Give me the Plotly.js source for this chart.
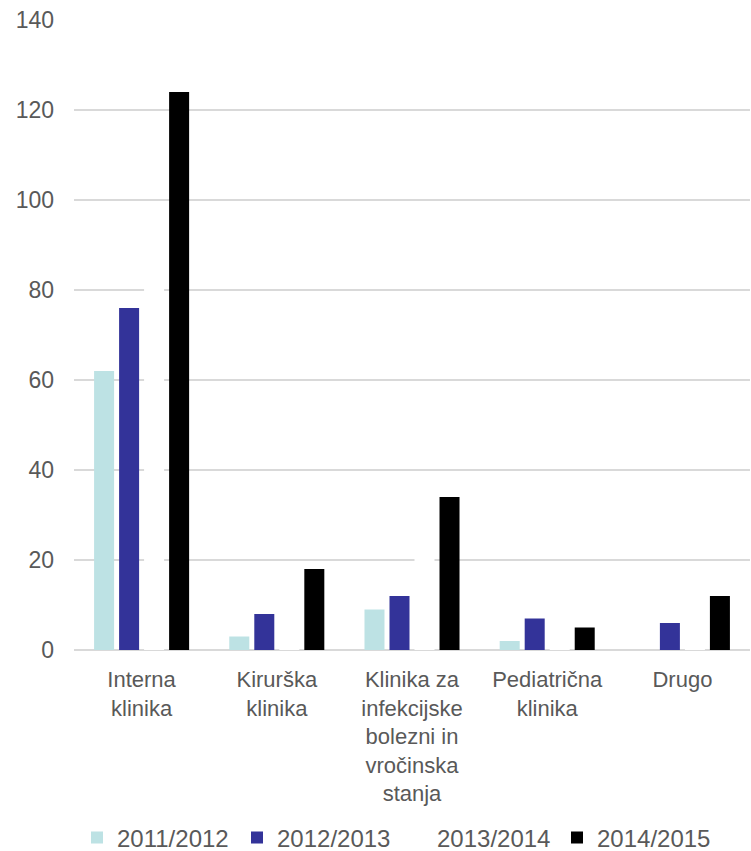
<!DOCTYPE html>
<html>
<head>
<meta charset="utf-8">
<script src="https://cdn.plot.ly/plotly-3.0.1.min.js"></script>
<style>html,body{margin:0;padding:0;background:#fff;}#chart{width:751px;height:851px;}</style>
</head>
<body>
<div id="chart"></div>
<script>
const categories = [
  "Interna<br>klinika",
  "Kirurška<br>klinika",
  "Klinika za<br>infekcijske<br>bolezni in<br>vročinska<br>stanja",
  "Pediatrična<br>klinika",
  "Drugo"
];
const seriesNames = ["2011/2012", "2012/2013", "2013/2014", "2014/2015"];
const v2011 = [62, 3, 9, 2, 0];
const v2012 = [76, 8, 12, 7, 6];
const v2013 = [85, 12, 24, 6, 9];
const v2014 = [124, 18, 34, 5, 12];
const colors = ["#bde2e4", "#333399", "#ffffff", "#000000"];
const yTicks = [0, 20, 40, 60, 80, 100, 120, 140];

const allValues = [v2011, v2012, v2013, v2014];
const traces = allValues.map((vals, i) => ({
  type: "bar",
  name: seriesNames[i],
  x: categories,
  y: vals,
  marker: {color: colors[i], line: {width: 0}},
  hoverinfo: "x+y+name"
}));

const fam = "Liberation Sans, Arial, sans-serif";
const font = {family: fam, size: 23, color: "#595959"};

const layout = {
  width: 751,
  height: 851,
  margin: {l: 74, r: 1, t: 20, b: 201},
  paper_bgcolor: "#ffffff",
  plot_bgcolor: "#ffffff",
  font: font,
  barmode: "group",
  bargap: 0.26,
  bargroupgap: 0.2,
  showlegend: true,
  legend: {
    orientation: "h",
    x: 77 / 751, xanchor: "left", xref: "container",
    y: 13 / 851, yanchor: "middle", yref: "container",
    font: {family: fam, size: 24, color: "#595959"},
    traceorder: "normal",
    itemwidth: 30,
    entrywidth: 115
  },
  xaxis: {
    type: "category",
    showgrid: false,
    showline: false,
    zeroline: false,
    ticks: "",
    tickfont: {family: fam, size: 22, color: "#595959"},
    ticklabelstandoff: 14
  },
  yaxis: {
    range: [0, 140],
    tickvals: yTicks,
    ticktext: yTicks.map(String),
    showgrid: true,
    gridcolor: "#d9d9d9",
    gridwidth: 1.3,
    zeroline: true,
    zerolinecolor: "#d9d9d9",
    zerolinewidth: 1.3,
    showline: false,
    ticks: "",
    tickfont: font,
    ticklabelstandoff: 19
  }
};

Plotly.newPlot("chart", traces, layout, {displayModeBar: false, staticPlot: true});
</script>
</body>
</html>
